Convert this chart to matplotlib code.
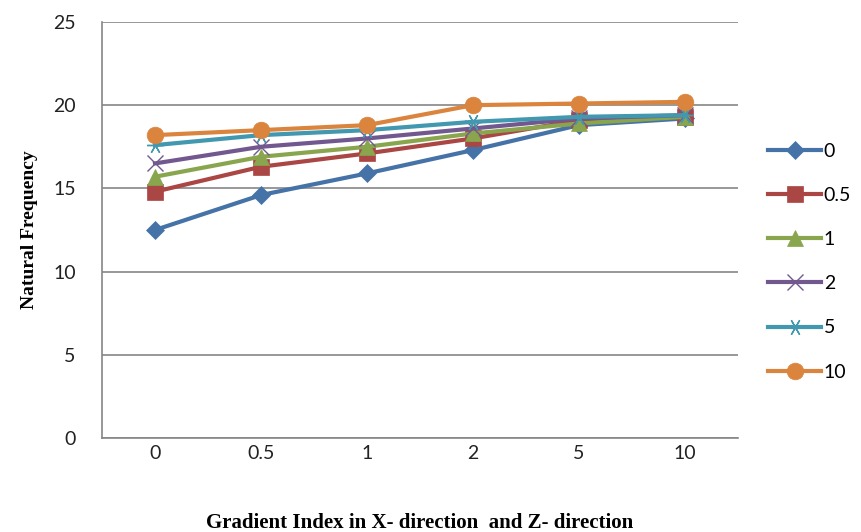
import matplotlib.pyplot as plt

categories = ['0', '0.5', '1', '2', '5', '10']
series_names = ['0', '0.5', '1', '2', '5', '10']
s0 = [12.5, 14.6, 15.9, 17.3, 18.8, 19.2]
s05 = [14.8, 16.3, 17.1, 18.0, 19.1, 19.3]
s1 = [15.7, 16.9, 17.5, 18.3, 18.9, 19.3]
s2 = [16.5, 17.5, 18.0, 18.6, 19.2, 19.4]
s5 = [17.6, 18.2, 18.5, 19.0, 19.3, 19.4]
s10 = [18.2, 18.5, 18.8, 20.0, 20.1, 20.2]

colors = ['#4573a7', '#aa4643', '#89a54e', '#71588f', '#4198af', '#db843d']
markers = ['D', 's', '^', 'x', (6, 2, 90), 'o']
sizes = [9, 11, 11, 11, 12, 12]


def main():
    fig = plt.figure(figsize=(8.61, 5.32), dpi=100)
    ax = fig.add_axes([0.1185, 0.1767, 0.7385, 0.782])
    x = list(range(len(categories)))
    for vals, name, c, m, ms in zip([s0, s05, s1, s2, s5, s10], series_names,
                                    colors, markers, sizes):
        ax.plot(x, vals, color=c, lw=3, marker=m, markersize=ms,
                markeredgewidth=1.0 if m in ('x', (6, 2, 90)) else 0.5,
                markeredgecolor=c, label=name)
    ax.set_xlim(-0.5, len(categories) - 0.5)
    ax.set_ylim(0, 25)
    ax.set_yticks([0, 5, 10, 15, 20, 25])
    ax.set_xticks(x)
    ax.set_xticklabels(categories)
    ax.grid(axis='y', color='#868686', lw=1.2)
    ax.set_axisbelow(True)
    for s in ['top', 'right']:
        ax.spines[s].set_visible(False)
    ax.spines['left'].set_color('#868686')
    ax.spines['bottom'].set_color('#868686')
    ax.spines['left'].set_linewidth(1.2)
    ax.spines['bottom'].set_linewidth(1.2)
    ax.tick_params(length=0, labelsize=14, colors='#222222')
    ax.tick_params(axis='y', pad=19)
    ax.tick_params(axis='x', pad=5)
    for lab in ax.get_xticklabels() + ax.get_yticklabels():
        lab.set_fontfamily('Lato')
    ax.set_ylabel('Natural Frequency', fontfamily='Liberation Serif',
                  fontweight='bold', fontsize=14, labelpad=11)
    ax.set_xlabel('Gradient Index in X- direction  and Z- direction',
                  fontfamily='Liberation Serif', fontweight='bold',
                  fontsize=15, labelpad=37)
    fig.legend(loc='upper left', bbox_to_anchor=(0.872, 0.765),
               frameon=False, handlelength=2.7, handletextpad=0.15,
               labelspacing=1.4, prop={'family': 'Lato', 'size': 14})
    fig.savefig('out.png', dpi=100)


if __name__ == '__main__':
    main()
